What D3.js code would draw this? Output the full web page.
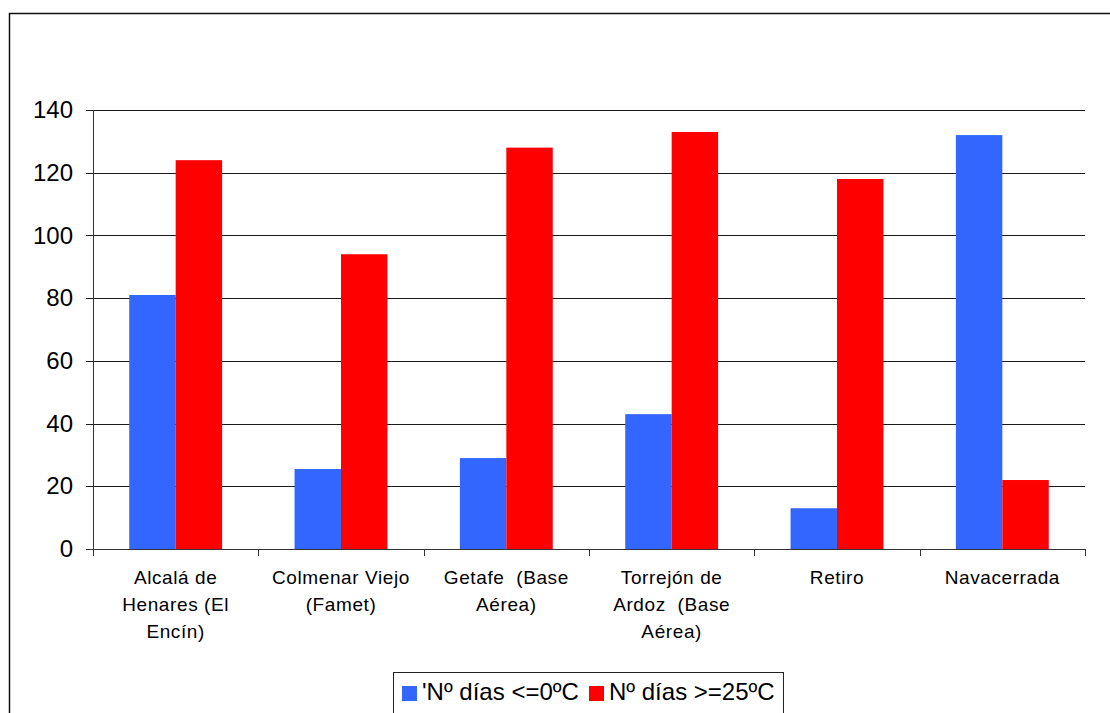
<!DOCTYPE html>
<html>
<head>
<meta charset="utf-8">
<script src="https://cdn.jsdelivr.net/npm/d3@7"></script>
<style>
  html, body { margin: 0; padding: 0; background: #fff; }
  svg { display: block; font-family: "Liberation Sans", Arial, sans-serif; }
  svg text { white-space: pre; }
</style>
</head>
<body>
<svg id="chart" width="1110" height="713"></svg>
<script>
// Weather stations (label lines) and day counts per series
const stations = [
  ["Alcalá de", "Henares (El", "Encín)"],
  ["Colmenar Viejo", "(Famet)"],
  ["Getafe  (Base", "Aérea)"],
  ["Torrejón de", "Ardoz  (Base", "Aérea)"],
  ["Retiro"],
  ["Navacerrada"]
];
const seriesNames = ["'Nº días <=0ºC", "Nº días >=25ºC"];
const frostDays = [81, 25.5, 29, 43, 13, 132];
const hotDays = [124, 94, 128, 133, 118, 22];
const seriesColors = ["#3366FF", "#FF0000"];
const yTicks = [0, 20, 40, 60, 80, 100, 120, 140];

const values = [frostDays, hotDays];
const stationKeys = stations.map(s => s.join(" "));

const svg = d3.select("#chart");

// Outer frame
svg.append("rect")
  .attr("x", 9.5).attr("y", 13.5)
  .attr("width", 1110).attr("height", 720)
  .attr("fill", "none").attr("stroke", "#111").attr("stroke-width", 1.5);

const plot = { left: 93, right: 1085, top: 110, bottom: 549 };

const y = d3.scaleLinear().domain([0, 140]).range([plot.bottom, plot.top]);
const x0 = d3.scaleBand().domain(stationKeys).range([plot.left, plot.right]).padding(0);
const x1 = d3.scaleBand().domain(seriesNames)
  .range([0, x0.bandwidth()]).paddingInner(0).paddingOuter(0.78);

// Horizontal gridlines with tick marks extending left of the axis
const grid = svg.append("g");
grid.selectAll("line")
  .data(yTicks.filter(t => t > 0))
  .join("line")
  .attr("x1", plot.left - 7).attr("x2", plot.right)
  .attr("y1", d => Math.round(y(d)) + 0.5).attr("y2", d => Math.round(y(d)) + 0.5)
  .attr("stroke", "#1a1a1a").attr("stroke-width", 1);

// Y axis labels
const yAxis = d3.axisLeft(y).tickValues(yTicks).tickSize(0).tickPadding(20);
const yg = svg.append("g").attr("transform", `translate(${plot.left},0)`).call(yAxis);
yg.select(".domain").remove();
yg.selectAll("text")
  .attr("font-size", 24).attr("fill", "#000")
  .attr("font-family", "Liberation Sans, Arial, sans-serif");

// Bars
const groups = svg.append("g").selectAll("g")
  .data(stationKeys)
  .join("g")
  .attr("transform", d => `translate(${x0(d)},0)`);

groups.selectAll("rect")
  .data((d, i) => seriesNames.map((s, k) => ({ s, v: values[k][i], c: seriesColors[k] })))
  .join("rect")
  .attr("x", d => x1(d.s))
  .attr("width", x1.bandwidth())
  .attr("y", d => y(d.v))
  .attr("height", d => y(0) - y(d.v))
  .attr("fill", d => d.c);

// Y axis line
svg.append("line")
  .attr("x1", plot.left + 0.5).attr("x2", plot.left + 0.5)
  .attr("y1", plot.top).attr("y2", plot.bottom + 7)
  .attr("stroke", "#333").attr("stroke-width", 1);

// X axis line and category boundary ticks
svg.append("line")
  .attr("x1", plot.left - 7).attr("x2", plot.right)
  .attr("y1", plot.bottom + 0.5).attr("y2", plot.bottom + 0.5)
  .attr("stroke", "#333").attr("stroke-width", 1);

const bounds = stationKeys.map(k => x0(k)).concat([plot.right]);
svg.append("g").selectAll("line")
  .data(bounds)
  .join("line")
  .attr("x1", d => Math.round(d) + 0.5).attr("x2", d => Math.round(d) + 0.5)
  .attr("y1", plot.bottom).attr("y2", plot.bottom + 7)
  .attr("stroke", "#333").attr("stroke-width", 1);

// Category labels (multi-line)
const labels = svg.append("g").selectAll("text")
  .data(stations)
  .join("text")
  .attr("text-anchor", "middle")
  .attr("font-size", 19)
  .attr("letter-spacing", 0.6)
  .attr("fill", "#000")
  .attr("transform", (d, i) => `translate(${x0(stationKeys[i]) + x0.bandwidth() / 2},584)`);
labels.selectAll("tspan")
  .data(d => d)
  .join("tspan")
  .attr("x", 0)
  .attr("y", (d, i) => i * 27)
  .text(d => d);

// Legend
const legend = svg.append("g");
legend.append("rect")
  .attr("x", 393.5).attr("y", 672.5).attr("width", 390).attr("height", 60)
  .attr("fill", "#fff").attr("stroke", "#222").attr("stroke-width", 1);
const legendX = [402, 589];
seriesNames.forEach((name, k) => {
  legend.append("rect")
    .attr("x", legendX[k]).attr("y", 686).attr("width", 15).attr("height", 15)
    .attr("fill", seriesColors[k]);
  legend.append("text")
    .attr("x", legendX[k] + 20).attr("y", 700)
    .attr("font-size", 24).attr("fill", "#000")
    .text(name);
});
</script>
</body>
</html>
